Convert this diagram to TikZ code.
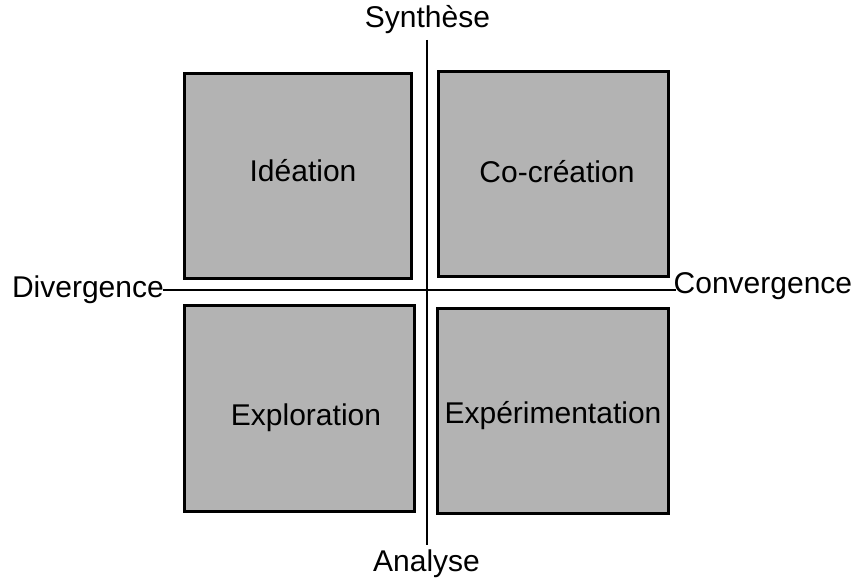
\documentclass[tikz,border=0pt]{standalone}
\usepackage{fontspec}
\setmainfont{Liberation Sans}
\definecolor{boxgray}{RGB}{179,179,179}
\begin{document}
\begin{tikzpicture}[x=1pt,y=-1pt,
  quad/.style={draw=black, line width=3pt, fill=boxgray, inner sep=0pt, anchor=north west},
  lbl/.style={font=\fontsize{30}{36}\selectfont, inner sep=0pt},
  axis/.style={draw=black, line width=1.5pt}]
\useasboundingbox (0,0) rectangle (861,578);
% quadrants
\node[quad, minimum width=227pt, minimum height=205pt] (ide) at (183,72) {};
\node[quad, minimum width=230pt, minimum height=205pt] (cocr) at (437,70) {};
\node[quad, minimum width=230pt, minimum height=206pt] (expl) at (183,304) {};
\node[quad, minimum width=231pt, minimum height=205pt] (expe) at (436,307) {};
% quadrant labels
\node[lbl, anchor=base] (tide) at (303,181) {Idéation};
\node[lbl, anchor=base] (tcocr) at (557,182) {Co-création};
\node[lbl, anchor=base] (texpl) at (306,425) {Exploration};
\node[lbl, anchor=base] (texpe) at (553,423) {Expérimentation};
% axis labels
\node[lbl, anchor=base] (syn) at (427.5,28) {Synthèse};
\node[lbl, anchor=base] (ana) at (426.5,571) {Analyse};
\node[lbl, anchor=base east] (div) at (164,297) {Divergence};
\node[lbl, anchor=base west] (conv) at (673.5,293) {Convergence};
% axes
\coordinate (vtop) at (427,40);
\coordinate (vbot) at (427,545);
\coordinate (hl) at (163,290);
\coordinate (hr) at (676,290);
\draw[axis] (vtop) -- (vbot);
\draw[axis] (hl) -- (hr);
\end{tikzpicture}
\end{document}
